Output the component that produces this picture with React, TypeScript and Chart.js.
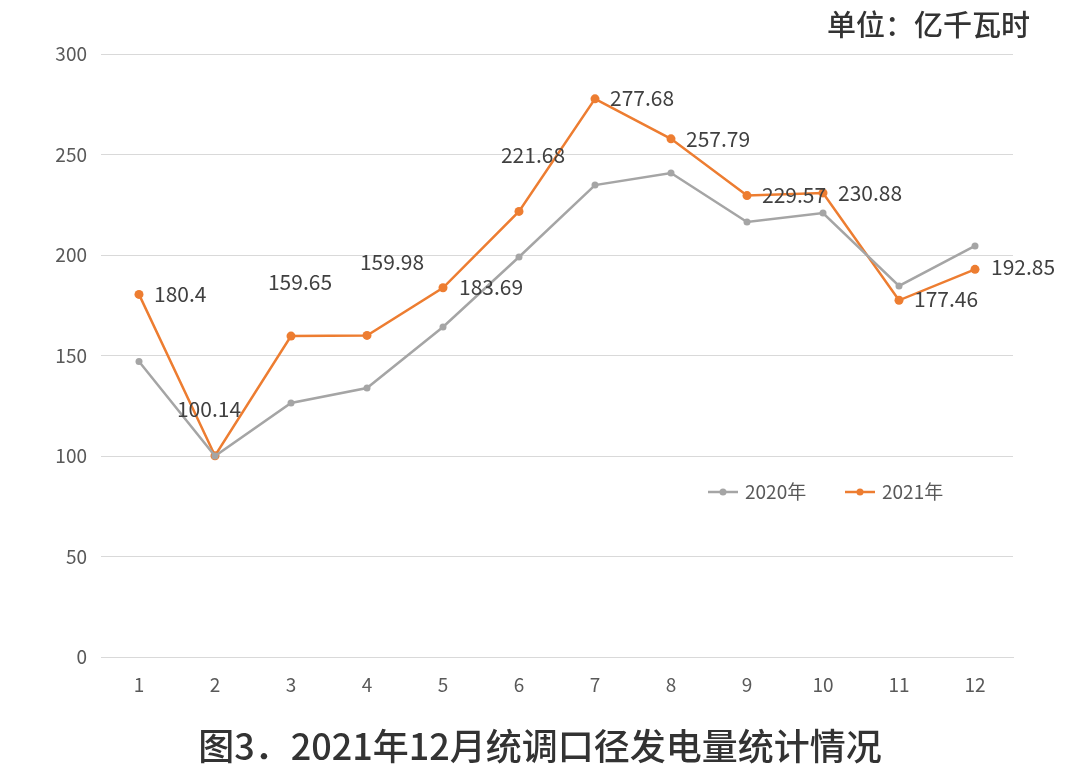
import React, { useEffect, useRef } from "react";
import { Chart, registerables } from "chart.js";

Chart.register(...registerables);

const categories = ["1", "2", "3", "4", "5", "6", "7", "8", "9", "10", "11", "12"];
const series2020 = [147, 100, 126.4, 133.8, 164.2, 199, 234.8, 240.8, 216.4, 220.9, 184.6, 204.5];
const series2021 = [180.4, 100.14, 159.65, 159.98, 183.69, 221.68, 277.68, 257.79, 229.57, 230.88, 177.46, 192.85];
const yTicks = [0, 50, 100, 150, 200, 250, 300];
const legendNames = ["2020年", "2021年"];
const unitText = "单位：亿千瓦时";
const titleText = "图3．2021年12月统调口径发电量统计情况";

// label placement for 2021 values: [dx, dy, align]
const labelOffsets: [number, number, CanvasTextAlign][] = [
  [15, 0, "left"],
  [-6, -47, "center"],
  [9, -54, "center"],
  [25, -73, "center"],
  [16, -1, "left"],
  [14, -56, "center"],
  [15, -1, "left"],
  [15, 0, "left"],
  [15, -1, "left"],
  [15, 0, "left"],
  [15, -1, "left"],
  [16, -2, "left"],
];

const FONT = '"Noto Sans CJK SC", "Noto Sans", sans-serif';
const GRAY = "#A5A5A5";
const ORANGE = "#ED7D31";

const overlayPlugin = {
  id: "overlay",
  afterDatasetsDraw(chart: any) {
    const ctx = chart.ctx;
    const meta = chart.getDatasetMeta(1);
    ctx.save();
    ctx.font = `21px ${FONT}`;
    ctx.fillStyle = "#404040";
    ctx.textBaseline = "middle";
    meta.data.forEach((pt: any, i: number) => {
      const [dx, dy, align] = labelOffsets[i];
      ctx.textAlign = align;
      ctx.fillText(String(series2021[i]), pt.x + dx, pt.y + dy);
    });
    // legend
    const items = [
      { name: legendNames[0], color: GRAY, x: 708 },
      { name: legendNames[1], color: ORANGE, x: 845 },
    ];
    const ly = 492;
    items.forEach((it) => {
      ctx.strokeStyle = it.color;
      ctx.lineWidth = 2.5;
      ctx.beginPath();
      ctx.moveTo(it.x, ly);
      ctx.lineTo(it.x + 30, ly);
      ctx.stroke();
      ctx.fillStyle = it.color;
      ctx.beginPath();
      ctx.arc(it.x + 15, ly, 3.5, 0, Math.PI * 2);
      ctx.fill();
      ctx.fillStyle = "#595959";
      ctx.font = `19px ${FONT}`;
      ctx.textAlign = "left";
      ctx.fillText(it.name, it.x + 37, ly);
    });
    ctx.restore();
  },
};

export default function App() {
  const ref = useRef<HTMLCanvasElement>(null);
  useEffect(() => {
    document.body.style.margin = "0";
    const chart = new Chart(ref.current!, {
      type: "line",
      data: {
        labels: categories,
        datasets: [
          {
            label: legendNames[0],
            data: series2020,
            borderColor: GRAY,
            backgroundColor: GRAY,
            borderWidth: 2.5,
            pointRadius: 3.5,
            pointBorderWidth: 0,
            tension: 0,
          },
          {
            label: legendNames[1],
            data: series2021,
            borderColor: ORANGE,
            backgroundColor: ORANGE,
            borderWidth: 2.5,
            pointRadius: 4.5,
            pointBorderWidth: 0,
            tension: 0,
          },
        ],
      },
      options: {
        animation: false,
        responsive: false,
        layout: { padding: { top: 54, left: 0, right: 67, bottom: 0 } },
        plugins: { legend: { display: false }, tooltip: { enabled: false }, title: { display: false } },
        scales: {
          x: {
            offset: true,
            grid: { display: false },
            border: { display: true, color: "#d9d9d9", width: 1 },
            ticks: { color: "#595959", font: { size: 19, family: FONT }, padding: 8 },
            afterFit: (s: any) => { s.height = 124; },
          },
          y: {
            min: 0,
            max: 300,
            afterBuildTicks: (s: any) => { s.ticks = yTicks.map((v) => ({ value: v })); },
            grid: { color: "#d9d9d9", lineWidth: 1, drawTicks: false },
            border: { display: false },
            ticks: { color: "#595959", font: { size: 19, family: FONT }, padding: 14 },
            afterFit: (s: any) => { s.width = 101; },
          },
        },
      },
      plugins: [overlayPlugin],
    });
    return () => chart.destroy();
  }, []);
  return (
    <div style={{ position: "relative", width: 1080, height: 781, background: "#fff", fontFamily: FONT }}>
      <canvas ref={ref} width={1080} height={781} style={{ position: "absolute", left: 0, top: 0 }} />
      <div style={{ position: "absolute", right: 50, top: 1, fontSize: 29, lineHeight: "44px", color: "#333", fontWeight: 500, whiteSpace: "nowrap" }}>
        {unitText}
      </div>
      <div style={{ position: "absolute", left: 0, width: 1080, top: 718, lineHeight: "52px", textAlign: "center", fontSize: 36, color: "#333", fontWeight: 500, whiteSpace: "nowrap" }}>
        {titleText}
      </div>
    </div>
  );
}
